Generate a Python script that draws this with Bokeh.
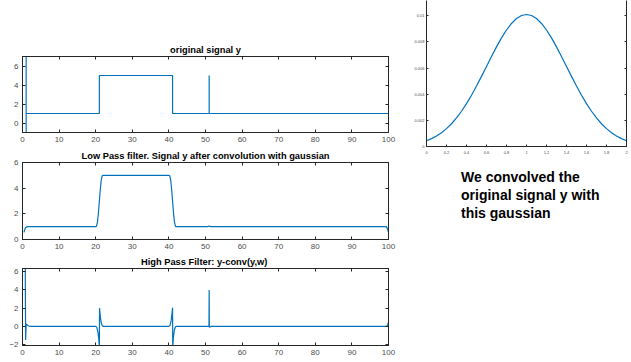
from bokeh.plotting import figure
from bokeh.layouts import row, column
from bokeh.models import Range1d, FixedTicker, LinearAxis, Div
from bokeh.embed import file_html
from bokeh.resources import INLINE

# ---------------- data ----------------
x_ticks = [0, 10, 20, 30, 40, 50, 60, 70, 80, 90, 100]

orig_x = [1, 1, 1, 21, 21, 41, 41, 51, 51, 51, 100]
orig_y = [-1.5, 7.5, 1, 1, 5, 5, 1, 1, 5, 1, 1]

lp_x = [0.4, 0.7, 1.0, 1.5, 20.0, 20.2, 20.5, 20.75, 21.0, 21.25, 21.5, 21.8, 22.0,
        40.0, 40.2, 40.5, 40.75, 41.0, 41.25, 41.5, 41.8, 42.0,
        50.6, 51.0, 51.4, 99.4, 99.7, 100.0]
lp_y = [0.55, 0.85, 0.97, 1.0, 1.0, 1.03, 1.4, 2.1, 3.0, 3.9, 4.6, 4.97, 5.0,
        5.0, 4.97, 4.6, 3.9, 3.0, 2.1, 1.4, 1.03, 1.0,
        1.0, 1.05, 1.0, 1.0, 0.85, 0.55]

hp_x = [0.75, 0.85, 1.0, 1.3, 1.7, 2.2, 20.0, 20.3, 20.6, 20.85, 21.0, 21.05, 21.25, 21.5, 21.8, 22.1,
        40.0, 40.3, 40.6, 40.85, 41.0, 41.05, 41.25, 41.5, 41.8, 42.1,
        50.95, 51.0, 51.05, 51.15, 51.4, 99.5, 99.8, 100.0]
hp_y = [7.0, -1.5, 0.25, 0.15, 0.04, 0.0, 0.0, -0.1, -0.6, -1.4, -2.3, 2.0, 1.1, 0.4, 0.05, 0.0,
        0.0, 0.1, 0.6, 1.4, 2.05, -2.3, -1.1, -0.4, -0.05, 0.0,
        0.0, 4.0, -0.05, -0.1, 0.0, 0.0, 0.15, 0.5]

g_x = [0.0, 0.05, 0.1, 0.15, 0.2, 0.25, 0.3, 0.35, 0.4, 0.45, 0.5, 0.55, 0.6, 0.65, 0.7, 0.75, 0.8,
       0.85, 0.9, 0.95, 1.0, 1.05, 1.1, 1.15, 1.2, 1.25, 1.3, 1.35, 1.4, 1.45, 1.5, 1.55, 1.6,
       1.65, 1.7, 1.75, 1.8, 1.85, 1.9, 1.95, 2.0]
g_y = [0.000444, 0.000602, 0.000804, 0.001057, 0.001367, 0.001741, 0.002185, 0.002698,
       0.00328, 0.003925, 0.004624, 0.005364, 0.006126, 0.006887, 0.007624, 0.008308,
       0.008913, 0.009414, 0.00979, 0.010021, 0.0101, 0.010021, 0.00979, 0.009414,
       0.008913, 0.008308, 0.007624, 0.006887, 0.006126, 0.005364, 0.004624, 0.003925,
       0.00328, 0.002698, 0.002185, 0.001741, 0.001367, 0.001057, 0.000804, 0.000602, 0.000444]
g_xticks = [0, 0.2, 0.4, 0.6, 0.8, 1, 1.2, 1.4, 1.6, 1.8, 2]
g_yticks = [0, 0.002, 0.004, 0.006, 0.008, 0.01]

titles = ["original signal y",
          "Low Pass filter. Signal y after convolution with gaussian",
          "High Pass Filter:  y-conv(y,w)"]
note_lines = ["We convolved the", "original signal y with", "this gaussian"]

# ---------------- styling ----------------
AX = "#262626"
LBL = "#4d4d4d"
BLUE = "#0072BD"
FONT = "Liberation Sans"


def style_axis(ax, ticks, show_labels=True, fs="8px", standoff=3):
    ax.ticker = FixedTicker(ticks=ticks)
    ax.major_tick_in = 3
    ax.major_tick_out = 0
    ax.minor_tick_in = 0
    ax.minor_tick_out = 0
    ax.axis_line_color = AX
    ax.major_tick_line_color = AX
    ax.major_label_text_font = FONT
    if show_labels:
        ax.major_label_text_color = LBL
        ax.major_label_text_font_size = fs
        ax.major_label_standoff = standoff
    else:
        ax.major_label_text_color = None
        ax.major_label_text_font_size = "1px"
        ax.major_label_standoff = 0


def panel(title, xs, ys, yr, yticks, height, top, bottom):
    p = figure(width=405, height=height, output_backend="svg", toolbar_location=None,
               x_range=Range1d(0, 100), y_range=Range1d(*yr),
               min_border_left=22, min_border_right=17,
               min_border_top=top, min_border_bottom=bottom)
    p.title.text = title
    p.title.text_font = FONT
    p.title.text_font_size = "9.3px"
    p.title.text_font_style = "bold"
    p.title.text_color = "#000000"
    p.title.align = "center"
    p.title.standoff = 3
    p.title.offset = 0
    p.xgrid.visible = False
    p.ygrid.visible = False
    p.outline_line_color = AX
    p.background_fill_color = "white"
    p.border_fill_color = "white"
    style_axis(p.xaxis[0], x_ticks, standoff=4)
    style_axis(p.yaxis[0], yticks, standoff=4)
    top_ax = LinearAxis()
    style_axis(top_ax, x_ticks, show_labels=False)
    p.add_layout(top_ax, "above")
    right_ax = LinearAxis()
    style_axis(right_ax, yticks, show_labels=False)
    p.add_layout(right_ax, "right")
    p.line(xs, ys, line_color=BLUE, line_width=1.2)
    return p


p1 = panel(titles[0], orig_x, orig_y, (-1, 7), [0, 2, 4, 6], 146, 56, 14)
p2 = panel(titles[1], lp_x, lp_y, (0, 6), [0, 2, 4, 6], 106, 16, 13)
p3 = panel(titles[2], hp_x, hp_y, (-2.1, 6.35), [-2, 0, 2, 4, 6], 110, 16, 17)

p4 = figure(width=226, height=160, output_backend="svg", toolbar_location=None,
            x_range=Range1d(0, 2), y_range=Range1d(0, 0.01117),
            min_border_left=21, min_border_right=5, min_border_top=0, min_border_bottom=14)
p4.xgrid.visible = False
p4.ygrid.visible = False
p4.outline_line_color = None
style_axis(p4.xaxis[0], g_xticks, fs="4px", standoff=4)
style_axis(p4.yaxis[0], g_yticks, fs="4px", standoff=2)
p4.xaxis[0].major_tick_in = 2
p4.yaxis[0].major_tick_in = 2
r4 = LinearAxis()
style_axis(r4, g_yticks, show_labels=False)
r4.major_tick_in = 2
p4.add_layout(r4, "right")
p4.line(g_x, g_y, line_color=BLUE, line_width=1.2)

note = Div(text="<br>".join(note_lines), width=216, height=192,
           styles={"font-family": FONT, "font-weight": "bold", "font-size": "14px",
                   "line-height": "18px", "color": "#000000",
                   "padding-left": "51px", "padding-top": "3px", "box-sizing": "border-box"})

layout = row(column(p1, p2, p3, spacing=0), column(p4, note, spacing=0), spacing=0)

open("out.html", "w").write(file_html(layout, INLINE))
